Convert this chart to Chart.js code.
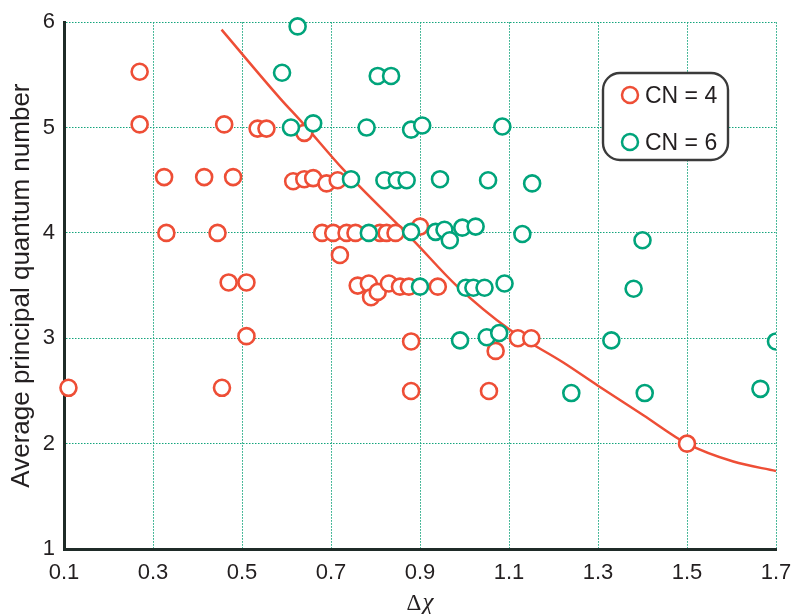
<!DOCTYPE html>
<html>
<head>
<meta charset="utf-8">
<script src="https://cdn.jsdelivr.net/npm/chart.js@4.4.1/dist/chart.umd.min.js"></script>
<style>
  html, body { margin: 0; padding: 0; background: #fff; }
  canvas { display: block; }
</style>
</head>
<body>
<canvas id="chart" width="797" height="614"></canvas>
<script>
// tick labels
const xTicks = [0.1, 0.3, 0.5, 0.7, 0.9, 1.1, 1.3, 1.5, 1.7];
const yTicks = [1, 2, 3, 4, 5, 6];
const seriesLabels = ['CN = 4', 'CN = 6'];

// CN = 4 (red)
const cn4X = [0.11,0.27,0.27,0.325,0.33,0.415,0.445,0.46,0.48,0.47,0.51,0.455,0.51,0.535,0.555,
  0.64,0.615,0.64,0.66,0.69,0.715,0.68,0.705,0.735,0.755,0.81,0.825,0.845,0.9,0.72,
  0.76,0.785,0.79,0.805,0.83,0.855,0.875,0.94,0.88,0.88,1.07,1.055,1.12,1.15,1.5];
const cn4Y = [2.53,5.53,5.03,4.53,4.0,4.53,4.0,5.03,4.53,3.53,3.53,2.53,3.02,4.99,4.99,
  4.95,4.49,4.51,4.52,4.47,4.5,4.0,4.0,4.0,4.0,4.0,4.0,4.0,4.06,3.79,
  3.5,3.52,3.39,3.44,3.52,3.49,3.49,3.49,2.97,2.5,2.88,2.5,3.0,3.0,2.0];

// CN = 6 (green)
const cn6X = [0.625,0.59,0.61,0.66,0.78,0.805,0.835,0.88,0.905,1.085,0.745,0.82,0.848,0.87,0.945,
  1.053,1.152,0.785,0.88,0.935,0.955,0.967,0.995,1.025,1.13,1.40,1.38,0.90,1.003,1.02,
  1.045,1.09,0.99,1.05,1.078,1.33,1.24,1.405,1.665,1.70];
const cn6Y = [5.96,5.52,5.0,5.04,5.0,5.49,5.49,4.98,5.02,5.01,4.51,4.5,4.5,4.5,4.51,
  4.5,4.47,4.0,4.01,4.01,4.03,3.93,4.05,4.06,3.99,3.93,3.47,3.49,3.48,3.48,
  3.48,3.52,2.98,3.01,3.05,2.98,2.48,2.48,2.52,2.97];

// dividing curve
const fitX = [0.454,0.585,0.637,0.728,0.885,0.982,1.102,1.222,1.3,1.402,1.5,1.604,1.7];
const fitY = [5.93,5.28,5.04,4.60,3.93,3.50,3.08,2.77,2.55,2.27,2.00,1.83,1.74];

const RED = '#ee4e36';
const GREEN = '#00a47b';
const GRID = '#14a47c';
const AXIS = '#1f2b28';
const INK = '#231f20';

const toPts = (xs, ys) => xs.map((x, i) => ({ x: x, y: ys[i] }));

const legendBox = {
  id: 'legendBox',
  afterDraw(chart) {
    const ctx = chart.ctx;
    const x = 603, y = 73, w = 125, h = 87, r = 17;
    ctx.save();
    ctx.beginPath();
    ctx.roundRect(x, y, w, h, r);
    ctx.fillStyle = '#fff';
    ctx.fill();
    ctx.lineWidth = 2.4;
    ctx.strokeStyle = '#3b3b3b';
    ctx.stroke();
    const rows = [{ ds: chart.data.datasets[1], cy: 95 }, { ds: chart.data.datasets[2], cy: 142 }];
    rows.forEach(row => {
      ctx.beginPath();
      ctx.arc(630, row.cy, 8, 0, Math.PI * 2);
      ctx.fillStyle = '#fff';
      ctx.fill();
      ctx.lineWidth = 2.5;
      ctx.strokeStyle = row.ds.borderColor;
      ctx.stroke();
      ctx.fillStyle = INK;
      ctx.font = '23px "Liberation Sans", Arial, sans-serif';
      ctx.textBaseline = 'middle';
      ctx.textAlign = 'left';
      ctx.fillText(row.ds.label, 645, row.cy + 2);
    });
    ctx.restore();
  }
};

const xTitle = {
  id: 'xTitle',
  afterDraw(chart) {
    const ctx = chart.ctx;
    const cx = (chart.chartArea.left + chart.chartArea.right) / 2;
    ctx.save();
    ctx.fillStyle = INK;
    ctx.textBaseline = 'alphabetic';
    ctx.textAlign = 'left';
    ctx.font = '23px "Liberation Serif", serif';
    const wd = ctx.measureText('Δ').width;
    ctx.font = 'italic 25px "Liberation Serif", serif';
    const wc = ctx.measureText('χ').width;
    const left = cx - (wd + wc + 1) / 2;
    ctx.font = '23px "Liberation Serif", serif';
    ctx.fillText('Δ', left, 610);
    ctx.font = 'italic 25px "Liberation Serif", serif';
    ctx.fillText('χ', left + wd + 1, 610);
    ctx.restore();
  }
};

new Chart(document.getElementById('chart').getContext('2d'), {
  type: 'scatter',
  data: {
    datasets: [
      {
        type: 'line',
        label: 'fit',
        data: toPts(fitX, fitY),
        borderColor: RED,
        borderWidth: 2.5,
        pointRadius: 0,
        fill: false,
        cubicInterpolationMode: 'monotone',
        order: 3
      },
      {
        label: seriesLabels[0],
        data: toPts(cn4X, cn4Y),
        borderColor: RED,
        backgroundColor: '#fff',
        pointRadius: 8,
        pointBorderWidth: 2.6,
        borderWidth: 2.6,
        clip: { left: 12, top: 12, right: 0, bottom: 12 },
        order: 2
      },
      {
        label: seriesLabels[1],
        data: toPts(cn6X, cn6Y),
        borderColor: GREEN,
        backgroundColor: '#fff',
        pointRadius: 8,
        pointBorderWidth: 2.6,
        borderWidth: 2.6,
        clip: { left: 12, top: 12, right: 0, bottom: 12 },
        order: 1
      }
    ]
  },
  options: {
    responsive: false,
    animation: false,
    devicePixelRatio: 1,
    layout: { padding: { left: 0, right: 21, top: 22, bottom: 0 } },
    plugins: { legend: { display: false }, tooltip: { enabled: false } },
    scales: {
      x: {
        type: 'linear',
        min: 0.1, max: 1.7,
        afterBuildTicks: s => { s.ticks = xTicks.map(v => ({ value: v })); },
        afterFit: s => { s.height = 65; s.paddingLeft = 0; s.paddingRight = 0; },
        grid: { color: GRID, lineWidth: 1, drawTicks: false },
        border: { display: true, color: AXIS, width: 3, dash: [1.5, 1.5] },
        ticks: {
          padding: 11,
          color: INK,
          font: { family: '"Liberation Sans", Arial, sans-serif', size: 22 },
          callback: v => Number(v).toFixed(1),
          maxRotation: 0, autoSkip: false
        }
      },
      y: {
        type: 'linear',
        min: 1, max: 6,
        afterBuildTicks: s => { s.ticks = yTicks.map(v => ({ value: v })); },
        afterFit: s => { s.width = 64; },
        grid: { color: GRID, lineWidth: 1, drawTicks: false },
        border: { display: true, color: AXIS, width: 3, dash: [1.5, 1.5] },
        ticks: {
          padding: 9,
          color: INK,
          font: { family: '"Liberation Sans", Arial, sans-serif', size: 22 }
        },
        title: {
          display: true,
          text: 'Average principal quantum number',
          color: INK,
          font: { family: '"Liberation Sans", Arial, sans-serif', size: 26 },
          padding: { top: 6, bottom: 0 }
        }
      }
    }
  },
  plugins: [legendBox, xTitle]
});
</script>
</body>
</html>
